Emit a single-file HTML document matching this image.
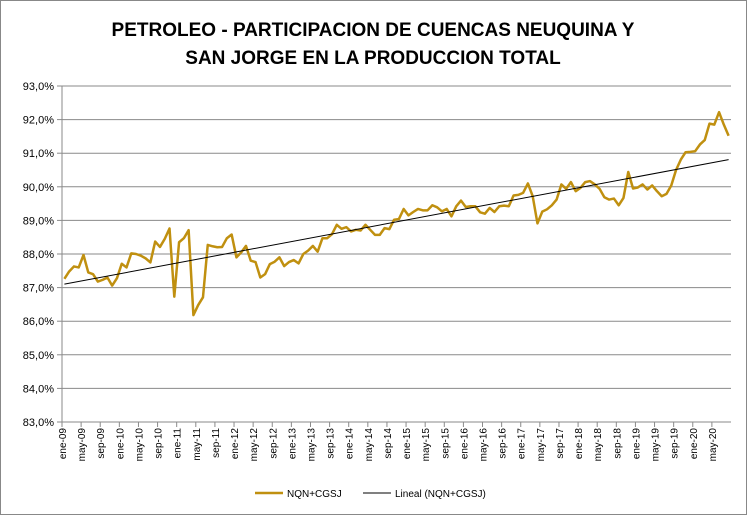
<!DOCTYPE html>
<html><head><meta charset="utf-8"><style>
body{margin:0;background:#fff}
svg text{font-family:"Liberation Sans",Arial,sans-serif}
</style></head><body>
<svg id="c" width="747" height="515" xmlns="http://www.w3.org/2000/svg">
<rect x="0.5" y="0.5" width="746" height="514" fill="#fff" stroke="#888"/>
<text x="373" y="36" text-anchor="middle" font-size="19" font-weight="bold">PETROLEO - PARTICIPACION DE CUENCAS NEUQUINA Y</text>
<text x="373" y="64" text-anchor="middle" font-size="19" font-weight="bold">SAN JORGE EN LA PRODUCCION TOTAL</text>
<g id="grid"></g><g id="yt"></g><g id="xt"></g><g id="series"></g>
<g>
<line x1="255" y1="493" x2="283" y2="493" stroke="#C09010" stroke-width="2.5"/>
<text x="287" y="497" font-size="10">NQN+CGSJ</text>
<line x1="363" y1="493" x2="391" y2="493" stroke="#000" stroke-width="1"/>
<text x="395" y="497" font-size="10">Lineal (NQN+CGSJ)</text>
</g>
</svg>
<script>
const values=[87.26,87.48,87.63,87.6,87.97,87.45,87.4,87.18,87.23,87.3,87.06,87.28,87.71,87.6,88.02,88.0,87.95,87.87,87.75,88.37,88.21,88.45,88.76,86.73,88.35,88.47,88.71,86.18,86.48,86.71,88.27,88.23,88.2,88.21,88.47,88.58,87.9,88.05,88.24,87.8,87.76,87.3,87.4,87.7,87.77,87.9,87.64,87.76,87.82,87.72,88.0,88.1,88.24,88.07,88.47,88.47,88.59,88.87,88.75,88.8,88.67,88.72,88.7,88.87,88.72,88.57,88.57,88.77,88.74,89.02,89.04,89.34,89.15,89.25,89.34,89.3,89.3,89.45,89.39,89.27,89.34,89.12,89.42,89.59,89.4,89.42,89.42,89.24,89.2,89.37,89.25,89.42,89.44,89.42,89.74,89.76,89.82,90.1,89.72,88.91,89.26,89.33,89.45,89.62,90.07,89.94,90.14,89.87,89.97,90.14,90.17,90.07,89.94,89.69,89.62,89.65,89.45,89.67,90.44,89.95,89.98,90.07,89.92,90.04,89.87,89.72,89.79,90.04,90.5,90.81,91.03,91.04,91.06,91.26,91.39,91.88,91.85,92.22,91.85,91.52];
const monthNames=["ene","feb","mar","abr","may","jun","jul","ago","sep","oct","nov","dic"];
const yTicks=[83,84,85,86,87,88,89,90,91,92,93];
const startYear=9;
const NS="http://www.w3.org/2000/svg";
const L=62,R=731,T=86,B=422,n=values.length,bw=(R-L)/n;
const X=i=>L+bw*(i+0.5), Y=v=>T+(93-v)/(93-83)*(B-T);
function mk(tag,attrs,parent){const e=document.createElementNS(NS,tag);for(const k in attrs)e.setAttribute(k,attrs[k]);parent.appendChild(e);return e;}
const g=document.getElementById('grid'),yt=document.getElementById('yt'),xt=document.getElementById('xt'),s=document.getElementById('series');
yTicks.forEach(v=>{
 if(v>83){const l=mk('line',{x1:L,x2:R,y1:Y(v),y2:Y(v),stroke:'#8a8a8a','stroke-width':1},g);
 
 }
 mk('line',{x1:L-5,x2:L,y1:Y(v),y2:Y(v),stroke:'#8a8a8a'},g);
 const t=mk('text',{x:L-8,y:Y(v)+4,'text-anchor':'end','font-size':11},yt);
 t.textContent=v.toFixed(1).replace('.',',')+'%';
 
 
});
mk('line',{x1:L,x2:L,y1:T,y2:B,stroke:'#8a8a8a'},g);
mk('line',{x1:L,x2:R,y1:B,y2:B,stroke:'#8a8a8a'},g);
for(let i=0;i<n;i+=4){
 const x=L+bw*i;
 mk('line',{x1:x,x2:x,y1:B,y2:B+5,stroke:'#8a8a8a'},g);
 const yr=startYear+Math.floor(i/12);
 const t=mk('text',{transform:`translate(${x+4},${B+6}) rotate(-90)`,'text-anchor':'end','font-size':10},xt);
 t.textContent=monthNames[i%12]+'-'+String(yr).padStart(2,'0');
 
 
}
// trendline from regression
let sx=0,sy=0,sxx=0,sxy=0;values.forEach((v,i)=>{sx+=i;sy+=v;sxx+=i*i;sxy+=i*v;});
const m=(n*sxy-sx*sy)/(n*sxx-sx*sx),b=(sy-m*sx)/n;
const p=mk('polyline',{points:values.map((v,i)=>X(i)+','+Y(v)).join(' '),fill:'none',stroke:'#C09010','stroke-width':2.5,'stroke-linejoin':'round'},s);


const tl=mk('line',{x1:X(0),y1:Y(b),x2:X(n-1),y2:Y(b+m*(n-1)),stroke:'#000','stroke-width':1},s);


</script>
</body></html>
